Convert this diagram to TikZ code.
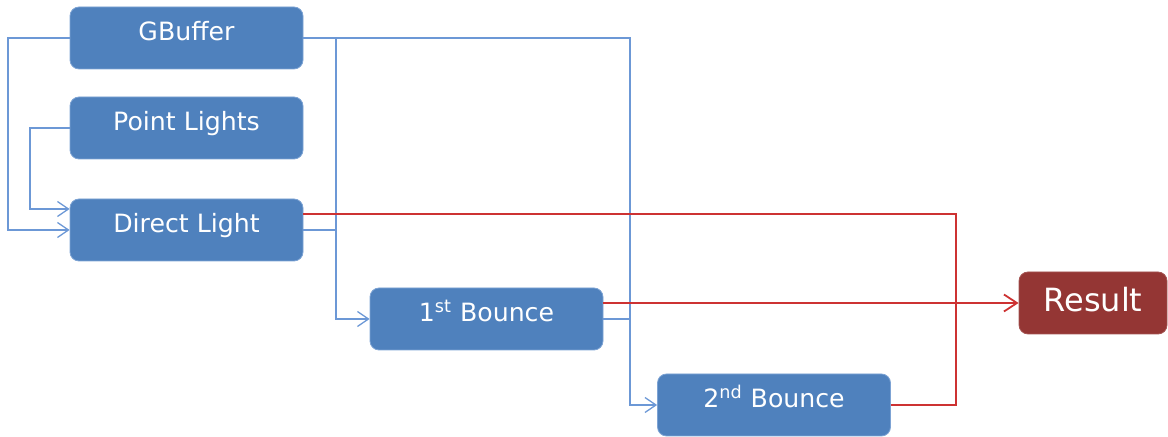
\documentclass[tikz,border=0pt]{standalone}
\usepackage{fontspec}
\setmainfont{DejaVu Sans}
\usetikzlibrary{positioning,calc,arrows.meta}
\definecolor{boxblue}{RGB}{79,129,189}
\definecolor{boxedge}{RGB}{125,163,212}
\definecolor{lineblue}{RGB}{108,152,214}
\definecolor{linered}{RGB}{205,50,50}
\definecolor{boxred}{RGB}{148,54,52}

\begin{document}
\begin{tikzpicture}[x=0.5pt,y=-0.5pt,
  pass/.style={draw=boxedge,line width=0.4pt,fill=boxblue,rounded corners=4.5pt,
    text=white,minimum width=116.5pt,minimum height=31pt,inner sep=0pt,
    text height=9pt,text depth=6.5pt,font=\fontsize{12.6}{14}\selectfont},
  res/.style={pass,fill=boxred,draw=boxred!85!white,minimum width=74pt,
    text height=12pt,text depth=3pt,font=\fontsize{16}{18}\selectfont},
  bl/.style={draw=lineblue,line width=0.65pt},
  rd/.style={draw=linered,line width=0.75pt},
  tip/.style={-{Straight Barb[length=5.5pt,width=7.5pt]}},
  bigtip/.style={-{Straight Barb[length=6.5pt,width=8.5pt,line width=0.9pt]}}]
\useasboundingbox (0,0) rectangle (1168,437);

% render passes
\node[pass] (gbuf) at (186.5,38) {GBuffer};
\node[pass] (plights) at (186.5,128) {Point Lights};
\node[pass] (direct) at (186.5,230) {Direct Light};
\node[pass] (bounce1) at (486.5,319) {1\textsuperscript{st} Bounce};
\node[pass] (bounce2) at (774,405) {2\textsuperscript{nd} Bounce};
\node[res] (result) at (1093,303) {Result};

% bus lines
\coordinate (lbus) at (8,0);
\coordinate (pbus) at (30,0);
\coordinate (abus) at (336,0);
\coordinate (bbus) at (630,0);
\coordinate (rbus) at (956,0);

% inputs
\draw[bl,tip] (gbuf.west) -| (lbus |- direct.west) -- (direct.west);
\draw[bl,tip] (plights.west) -| ($(pbus |- direct.west)+(0,-21)$) -- ($(direct.west)+(0,-21)$);
\draw[bl,tip] (gbuf.east) -| (bbus |- bounce2.west) -- (bounce2.west);
\draw[bl,tip] (abus |- gbuf.east) |- (bounce1.west);
\draw[bl] (direct.east) -- (abus |- direct.east);
\draw[bl] (bounce1.east) -- (bbus |- bounce1.east);

% outputs
\draw[rd] ($(direct.east)+(0,-16)$) -| (rbus |- result.west);
\draw[rd] (bounce2.east) -| (rbus |- result.west);
\draw[rd,bigtip] (bounce1.east |- result.west) -- (result.west);
\end{tikzpicture}
\end{document}
